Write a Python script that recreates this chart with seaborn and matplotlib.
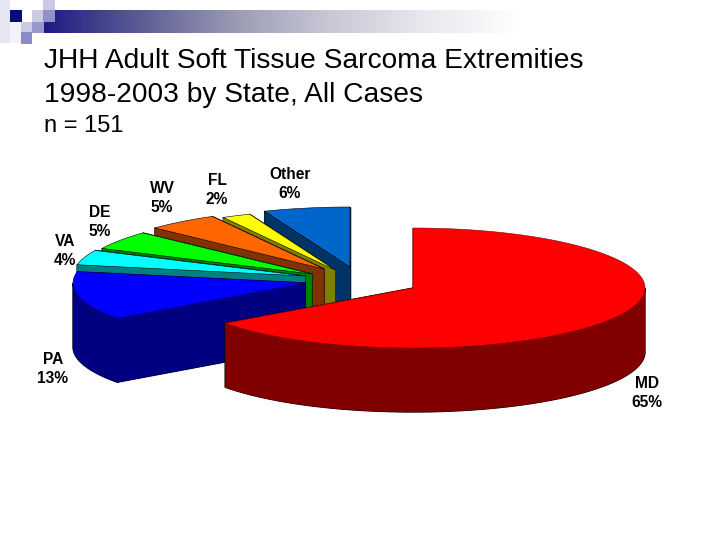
import numpy as np
import matplotlib
matplotlib.use('Agg')
import matplotlib.pyplot as plt
from matplotlib.patches import Rectangle
import seaborn as sns

# drawn back to front, painter style
states = ['Other', 'FL', 'WV', 'DE', 'VA', 'PA', 'MD']
percent = [6, 2, 5, 5, 4, 13, 65]
top_colors = ['#0066CC', '#FFFF00', '#FF6600', '#00FF00', '#00FFFF', '#0000FF', '#FF0000']

title_lines = ['JHH Adult Soft Tissue Sarcoma Extremities', '1998-2003 by State, All Cases']
subtitle = 'n = 151'

# layout, in pixels of the slide
centres = {'Other': (350, 267), 'FL': (335, 270), 'WV': (324, 269), 'DE': (312, 274),
           'VA': (305, 276), 'PA': (305, 283), 'MD': (413, 288)}
label_pos = {'Other': (290, 184), 'FL': (217, 190), 'WV': (162, 198), 'DE': (100, 222),
             'VA': (65, 251), 'PA': (53, 369), 'MD': (647, 393)}
rx, ry, depth = 232, 60, 64

sns.set_theme(style='white')
plt.rcParams['font.family'] = ['Liberation Sans', 'DejaVu Sans']

fig = plt.figure(figsize=(7.2, 5.4), dpi=100)
ax = fig.add_axes([0, 0, 1, 1])

# header band and squares
band = sns.blend_palette(['#1c1c84', '#5c5c94', '#9a9ab4', '#c8c8d6', '#e8e8ee', '#ffffff'], 256)
ax.imshow([band], extent=(44, 520, 33, 10), aspect='auto', zorder=1)
squares = [(0, 0, 10, 43, '#e6e6f3'), (10, 22, 11, 21, '#f2f2f9'), (10, 10, 12, 12, '#0a0a80'),
           (32, 10, 11, 12, '#cacae4'), (43, 10, 12, 12, '#9292c8'), (43, 0, 12, 10, '#cacae4'),
           (21, 22, 11, 10, '#cacae4'), (32, 22, 12, 11, '#9898cc'), (21, 32, 11, 12, '#8c8cc4')]
for x, y, w, h, c in squares:
    ax.add_patch(Rectangle((x, y), w, h, facecolor=c, edgecolor='none', zorder=2))


def arc(cx, cy, a0, a1, shift=0):
    t = np.radians(np.linspace(a0, a1, 200))
    return cx + rx * np.sin(t), cy - ry * np.cos(t) + shift


# the pie starts at 12 o'clock going clockwise, so MD comes first
order = ['MD', 'PA', 'VA', 'DE', 'WV', 'FL', 'Other']
start = {}
a = 0
for s in order:
    start[s] = a
    a += percent[states.index(s)] * 3.6

for z, (s, p, c) in enumerate(zip(states, percent, top_colors)):
    cx, cy = centres[s]
    a0 = start[s]
    a1 = a0 + p * 3.6
    face = sns.color_palette([c])[0]
    dark = tuple(v * 0.5 for v in face)
    zz = 10 + z * 3

    tx, ty = arc(cx, cy, a0, a1)
    walls = [
        ([cx, tx[0], tx[0], cx], [cy, ty[0], ty[0] + depth, cy + depth]),
        ([cx, tx[-1], tx[-1], cx], [cy, ty[-1], ty[-1] + depth, cy + depth]),
    ]
    # only the front half of the rim can be seen
    f0, f1 = max(a0, 90), min(a1, 270)
    if f1 > f0:
        fx, fy = arc(cx, cy, f0, f1)
        walls.append((np.r_[fx, fx[::-1]], np.r_[fy, fy[::-1] + depth]))

    # thick outline first, then the faces over it, so only the silhouette keeps a line
    for wx, wy in walls:
        ax.fill(wx, wy, facecolor=dark, edgecolor='black', linewidth=0.9, zorder=zz)
    for wx, wy in walls:
        ax.fill(wx, wy, facecolor=dark, edgecolor=dark, linewidth=0.3, zorder=zz + 1)
    ax.fill(np.r_[cx, tx], np.r_[cy, ty], facecolor=face, edgecolor=dark if s in ('MD', 'PA') else 'black',
            linewidth=0.4, zorder=zz + 2)

    lx, ly = label_pos[s]
    ax.text(lx, ly, f'{s}\n{p}%', ha='center', va='center', fontsize=11.2, fontweight='bold',
            linespacing=1.3, color='black', zorder=50)

ax.text(44, 61, title_lines[0], fontsize=20.25, va='center', ha='left', color='black', zorder=50)
ax.text(44, 95, title_lines[1], fontsize=20.25, va='center', ha='left', color='black', zorder=50)
ax.text(44, 126, subtitle, fontsize=17, va='center', ha='left', color='black', zorder=50)

ax.set_xlim(0, 720)
ax.set_ylim(540, 0)
ax.axis('off')
fig.savefig('out.png', dpi=100, facecolor='white')
